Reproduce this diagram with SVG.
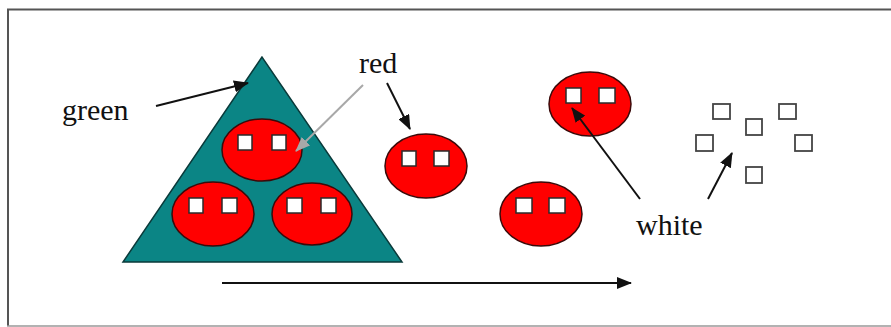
<svg xmlns="http://www.w3.org/2000/svg" width="891" height="327" viewBox="0 0 891 327">
<style>
.cell{fill:#ff0000;stroke:#3a0a0a;stroke-width:1.5}
.sq{fill:#ffffff;stroke:#2a2a2a;stroke-width:1.5}
.hs{fill:#ffffff;stroke:#444444;stroke-width:1.8}
.lbl{font-family:"Liberation Serif","Times New Roman",serif;font-size:30px;fill:#111111}
.arr{stroke:#111111;stroke-width:2;fill:none;marker-end:url(#ah)}
.arrg{stroke:#a8a8a8;stroke-width:2;fill:none;marker-end:url(#ahg)}
</style>
<defs>
<marker id="ah" markerUnits="userSpaceOnUse" markerWidth="16" markerHeight="12" refX="14" refY="6" orient="auto"><path d="M0,0 L15,6 L0,12 z" fill="#111111"/></marker>
<marker id="ahg" markerUnits="userSpaceOnUse" markerWidth="16" markerHeight="12" refX="14" refY="6" orient="auto"><path d="M0,0 L15,6 L0,12 z" fill="#a8a8a8"/></marker>
</defs>
<rect width="891" height="327" fill="#ffffff"/>
<g id="frame">
<line x1="7" y1="9.5" x2="891" y2="9.5" stroke="#555555" stroke-width="2"/>
<line x1="8" y1="9" x2="8" y2="326" stroke="#555555" stroke-width="2"/>
<line x1="7" y1="326" x2="891" y2="326" stroke="#999999" stroke-width="1.5"/>
</g>
<g id="triangle">
<polygon points="262,57 123,262 402,262" fill="#0b8585" stroke="#0a3a3a" stroke-width="1.5"/>
</g>
<g id="cell-top">
<ellipse class="cell" cx="262" cy="150" rx="40" ry="31"/>
<rect class="sq" x="238" y="135" width="14" height="15"/>
<rect class="sq" x="272" y="135" width="14" height="15"/>
</g>
<g id="cell-left">
<ellipse class="cell" cx="213" cy="214" rx="41" ry="32"/>
<rect class="sq" x="189" y="198" width="14" height="15"/>
<rect class="sq" x="222" y="198" width="15" height="15"/>
</g>
<g id="cell-right">
<ellipse class="cell" cx="312" cy="214" rx="40" ry="31"/>
<rect class="sq" x="287" y="198" width="15" height="15"/>
<rect class="sq" x="321" y="198" width="15" height="15"/>
</g>
<g id="cell-mid">
<ellipse class="cell" cx="426" cy="166" rx="41" ry="32"/>
<rect class="sq" x="402" y="151" width="14" height="15"/>
<rect class="sq" x="434" y="151" width="15" height="15"/>
</g>
<g id="cell-upper">
<ellipse class="cell" cx="590" cy="104" rx="41" ry="32"/>
<rect class="sq" x="566" y="88" width="15" height="15"/>
<rect class="sq" x="599" y="88" width="16" height="15"/>
</g>
<g id="cell-lower">
<ellipse class="cell" cx="541" cy="214" rx="41" ry="32"/>
<rect class="sq" x="516" y="198" width="16" height="15"/>
<rect class="sq" x="549" y="198" width="16" height="15"/>
</g>
<g id="free-squares">
<rect class="hs" x="713" y="104" width="17" height="15"/>
<rect class="hs" x="779" y="104" width="17" height="15"/>
<rect class="hs" x="746" y="119" width="16" height="16"/>
<rect class="hs" x="696" y="135" width="17" height="16"/>
<rect class="hs" x="795" y="135" width="17" height="16"/>
<rect class="hs" x="746" y="167" width="16" height="16"/>
</g>
<g id="labels">
<text class="lbl" x="62" y="120">green</text>
<text class="lbl" x="359" y="73">red</text>
<text class="lbl" x="636" y="235">white</text>
</g>
<g id="connectors">
<line class="arr" x1="156" y1="106" x2="248" y2="83"/>
<line class="arrg" x1="363" y1="85" x2="296" y2="151"/>
<line class="arr" x1="387" y1="83" x2="410" y2="129"/>
<line class="arr" x1="640" y1="199" x2="572" y2="108"/>
<line class="arr" x1="708" y1="199" x2="732" y2="153"/>
<line class="arr" x1="222" y1="283" x2="631" y2="283"/>
</g>
</svg>
